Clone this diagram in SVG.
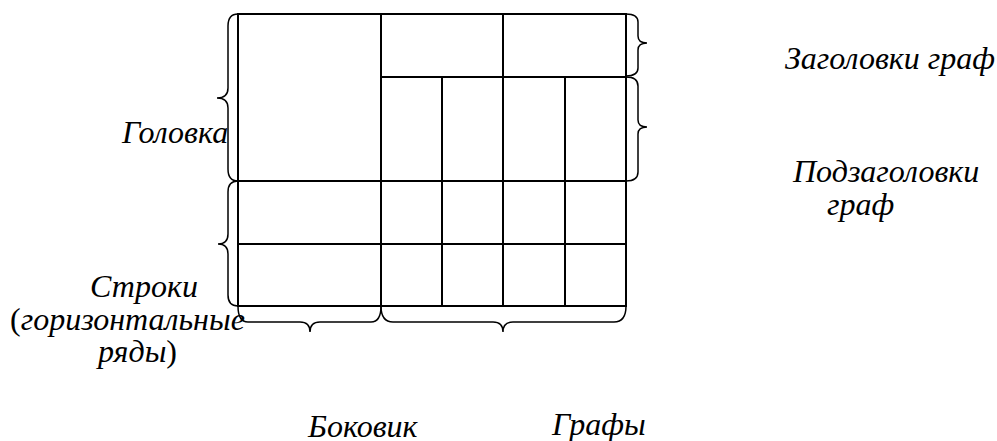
<svg xmlns="http://www.w3.org/2000/svg" width="997" height="441" viewBox="0 0 997 441">
<style>
.grid{stroke:#000;stroke-width:2;fill:none}
.brace{stroke:#000;stroke-width:1.5;fill:none}
.up{font-style:normal}
</style>
<rect width="997" height="441" fill="#fff"/>
<g id="table">
<rect class="grid" x="238" y="14" width="388" height="292"/>
<line class="grid" x1="381" y1="14" x2="381" y2="306"/>
<line class="grid" x1="503" y1="14" x2="503" y2="306"/>
<line class="grid" x1="442" y1="77" x2="442" y2="306"/>
<line class="grid" x1="565" y1="77" x2="565" y2="306"/>
<line class="grid" x1="381" y1="77" x2="626" y2="77"/>
<line class="grid" x1="238" y1="181" x2="626" y2="181"/>
<line class="grid" x1="238" y1="244" x2="626" y2="244"/>
</g>
<g id="connectors">
<path class="brace" d="M238,14 Q228,14 228,26 L228,88 Q228,98 217,98 Q228,98 228,108 L228,169 Q228,181 238,181"/>
<path class="brace" d="M238,181 Q228,181 228,192 L228,234 Q228,244 218,244 Q228,244 228,254 L228,295 Q228,306 238,306"/>
<path class="brace" d="M626,14 Q638,14 638,22 L638,36 Q638,43 647,43 Q638,43 638,50 L638,68 Q638,76 626,76"/>
<path class="brace" d="M626,77 Q638,77 638,86 L638,120 Q638,127 647,127 Q638,127 638,134 L638,172 Q638,181 626,181"/>
<path class="brace" d="M238,306 Q238,322 248,322 L300,322 Q310,322 310,332 Q310,322 320,322 L371,322 Q381,322 381,306"/>
<path class="brace" d="M381,306 Q381,322 393,322 L493,322 Q503,322 503,332 Q503,322 513,322 L614,322 Q626,322 626,306"/>
</g>
<g font-family="Liberation Serif, Times New Roman, serif" font-style="italic" font-size="32" fill="#000">
<g id="golovka"><text x="122" y="143">Головка</text></g>
<g id="zagolovki"><text x="785" y="69">Заголовки граф</text></g>
<g id="podzagolovki"><text x="793" y="182">Подзаголовки</text><text x="827" y="215">граф</text></g>
<g id="stroki"><text x="90" y="297">Строки</text><text x="10" y="330"><tspan class="up">(</tspan>горизонтальные</text><text x="98" y="362">ряды<tspan class="up">)</tspan></text></g>
<g id="bokovik"><text x="308" y="437">Боковик</text></g>
<g id="grafy"><text x="552" y="435">Графы</text></g>
</g>
</svg>
